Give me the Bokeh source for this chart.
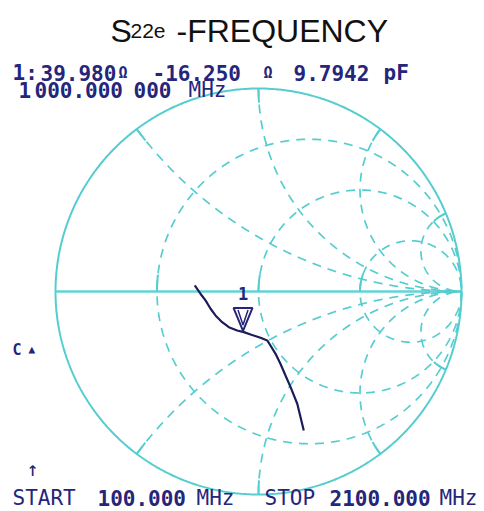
import numpy as np
from bokeh.plotting import figure
from bokeh.models import Range1d, Label
from bokeh.embed import file_html
from bokeh.resources import INLINE

# ---------------- data ----------------
# Smith chart grid values (normalised)
r_circles = [1/3, 1.0, 3.0]
x_arcs = [0.5, 1.0, 2.0, 5.0, -0.5, -1.0, -2.0, -5.0]

# S22e trace (reflection coefficient, real / imaginary), 100 MHz -> 2100 MHz
trace_re = [-0.314, -0.286, -0.261, -0.236, -0.212, -0.179, -0.146, -0.105, -0.072,
            -0.039, 0.010, 0.043, 0.059, 0.084, 0.108, 0.133, 0.158, 0.191, 0.223]
trace_im = [0.030, -0.011, -0.044, -0.085, -0.118, -0.151, -0.176, -0.192, -0.200,
            -0.212, -0.228, -0.241, -0.266, -0.307, -0.356, -0.414, -0.471, -0.553, -0.685]

# marker 1
z0 = 50.0
marker_R = 39.980
marker_X = -16.250
marker_C = "9.7942"
marker_freq = "1 000.000 000"
start_freq = "100.000"
stop_freq = "2100.000"

# ---------------- layout ----------------
W, H = 484, 511
DY = 8          # empirical text baseline correction
CX, CY, RAD = 258.0, 291.0, 203.0   # chart centre / radius in canvas pixels

GRID = "#55cdd0"
AXIS = "#62d3d6"
NAVY = "#25257a"
TRACE = "#1c1c58"

p = figure(width=W, height=H, output_backend="svg", toolbar_location=None,
           x_range=Range1d(-CX / RAD, (W - CX) / RAD),
           y_range=Range1d((CY - H) / RAD, CY / RAD),
           min_border=0)
p.axis.visible = False
p.grid.visible = False
p.outline_line_color = None
p.background_fill_color = "white"
p.border_fill_color = "white"

# outer circle
t = np.linspace(0, 2 * np.pi, 721)
p.line(np.cos(t), np.sin(t), line_color=GRID, line_width=2)
# real axis
p.line([-1, 1], [0, 0], line_color=AXIS, line_width=2.5)

tt = np.linspace(-np.pi / 2 + 1e-3, np.pi / 2 - 1e-3, 1500)
# constant-resistance circles
for r in r_circles:
    z = r + 1j * np.tan(tt)
    g = (z - 1) / (z + 1)
    p.line(g.real, g.imag, line_color=GRID, line_width=1.7, line_dash="9 7")
    # small solid tick above axis at the leftmost point
    m = (g.imag >= 0) & (g.imag <= 0.085) & (g.real < r / (1 + r))
    p.line(g.real[m], g.imag[m], line_color=GRID, line_width=2)

# constant-reactance arcs
ts = np.linspace(0, np.pi / 2 - 1e-3, 1500)
for x in x_arcs:
    z = np.tan(ts) + 1j * x
    g = (z - 1) / (z + 1)
    p.line(g.real, g.imag, line_color=GRID, line_width=1.7, line_dash="9 7")
    d = np.hypot(g.real - g.real[0], g.imag - g.imag[0])
    m = d <= 0.07
    p.line(g.real[m], g.imag[m], line_color=GRID, line_width=2)

# trace
p.line(trace_re, trace_im, line_color=TRACE, line_width=2.2)

# marker 1 position from its impedance
zm = complex(marker_R, marker_X) / z0
gm = (zm - 1) / (zm + 1)
mx, my = gm.real, gm.imag
tw, th = 9.5 / RAD, 23 / RAD
p.patch([mx - tw, mx + tw, mx], [my + th, my + th, my], fill_color="white",
        fill_alpha=0.0, line_color=NAVY, line_width=2)
iw, ih = 5 / RAD, 15 / RAD
p.line([mx - iw, mx, mx + iw], [my + th - 2 / RAD, my + th - 2 / RAD - ih, my + th - 2 / RAD],
       line_color=NAVY, line_width=1.5)


def lab(x_img, y_img, text, size, font="DejaVu Sans Mono", bold=True, color=NAVY, align="left"):
    p.add_layout(Label(x=x_img, y=H - y_img + DY, x_units="screen", y_units="screen",
                       text=text, text_font=font, text_font_size=f"{size}px",
                       text_font_style="bold" if bold else "normal", text_color=color,
                       text_baseline="alphabetic", text_align=align))


# marker label "1"
mpx = CX + mx * RAD
mpy = CY - (my + th) * RAD
lab(mpx, mpy - 6, "1", 17, align="center")

# title
lab(110, 38, "S", 32, font="Liberation Sans", bold=False, color="#111111")
lab(130, 38, "22e", 21, font="Liberation Sans", bold=False, color="#111111")
lab(176, 38, "-FREQUENCY", 32, font="Liberation Sans", bold=False, color="#111111")

# instrument annotation, line 1
lab(12, 80, "1:", 21)
lab(40, 80, f"{marker_R:.3f}", 21)
lab(118, 80, "Ω", 15)
lab(152, 80, f"{marker_X:.3f}", 21)
lab(263, 80, "Ω", 15)
lab(293, 80, marker_C, 21)
lab(383, 80, "pF", 21)
# line 2
lab(18, 97, marker_freq.split(" ")[0], 21)
lab(34, 97, marker_freq.split(" ")[1], 21)
lab(133, 97, marker_freq.split(" ")[2], 21)
lab(188, 97, "MHz", 21, bold=False)

# side annotations
lab(12, 357, "C", 15)
lab(28, 357, "▲", 11)
lab(26, 476, "↑", 20, bold=False)

# bottom line
lab(12, 505, "START", 21, bold=False)
lab(97, 505, start_freq, 21)
lab(196, 505, "MHz", 21, bold=False)
lab(264, 505, "STOP", 21, bold=False)
lab(329, 505, stop_freq, 21)
lab(439, 505, "MHz", 21, bold=False)

open("out.html", "w").write(file_html(p, INLINE))
